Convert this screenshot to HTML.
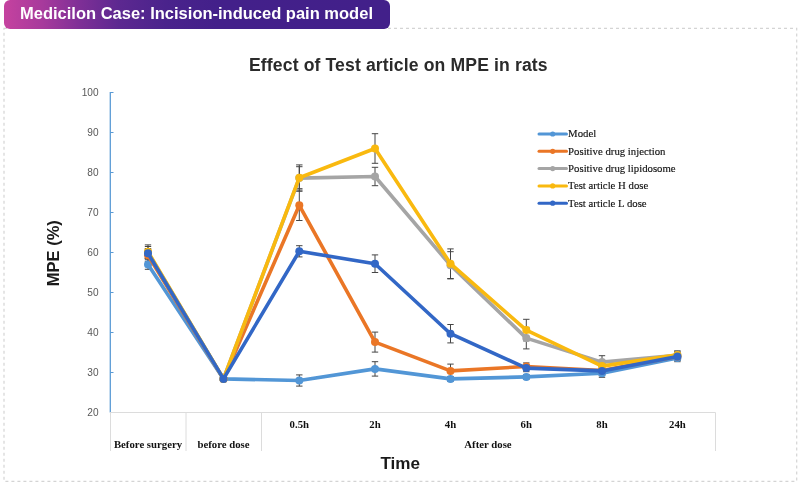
<!DOCTYPE html>
<html><head><meta charset="utf-8"><title>Medicilon Case</title>
<style>
html,body{margin:0;padding:0;background:#fff;}
body{width:800px;height:488px;overflow:hidden;position:relative;font-family:"Liberation Sans",sans-serif;}
#frame{position:absolute;left:0;top:0;}
#banner{position:absolute;left:4px;top:0;width:386px;height:29px;border-radius:6px;background:linear-gradient(90deg,#c5429f 0%,#a73a9c 10%,#7d2f96 20%,#5c2890 30%,#4a238c 42%,#43208a 55%,#42208a 100%);color:#fff;font-weight:bold;font-size:16.5px;line-height:26.6px;box-sizing:border-box;padding-left:16px;white-space:nowrap;}
svg{position:absolute;left:0;top:0;}
.ser{font-family:"Liberation Serif",serif;}
.sans{font-family:"Liberation Sans",sans-serif;}
</style></head><body>
<svg width="800" height="488" viewBox="0 0 800 488">
<rect x="4" y="28.3" width="792.7" height="453" fill="none" stroke="#d4d4d4" stroke-width="1.2" stroke-dasharray="3 3"/>

<text class="sans" x="249" y="70.7" font-size="17.6" font-weight="bold" fill="#2b2b2b" textLength="298.6" lengthAdjust="spacing">Effect of Test article on MPE in rats</text>
<text class="sans" transform="translate(59.3,253.2) rotate(-90)" font-size="16.55" font-weight="bold" fill="#1a1a1a" text-anchor="middle">MPE (%)</text>
<text class="sans" x="400.2" y="469.3" font-size="17.1" font-weight="bold" fill="#1a1a1a" text-anchor="middle">Time</text>
<g stroke="#5b9bd5" stroke-width="1.3" fill="none">
<line x1="110.3" y1="92" x2="110.3" y2="412.5"/>
<line x1="110.3" y1="412.5" x2="113.5" y2="412.5" stroke-width="1"/>
<line x1="110.3" y1="372.5" x2="113.5" y2="372.5" stroke-width="1"/>
<line x1="110.3" y1="332.5" x2="113.5" y2="332.5" stroke-width="1"/>
<line x1="110.3" y1="292.5" x2="113.5" y2="292.5" stroke-width="1"/>
<line x1="110.3" y1="252.5" x2="113.5" y2="252.5" stroke-width="1"/>
<line x1="110.3" y1="212.5" x2="113.5" y2="212.5" stroke-width="1"/>
<line x1="110.3" y1="172.5" x2="113.5" y2="172.5" stroke-width="1"/>
<line x1="110.3" y1="132.5" x2="113.5" y2="132.5" stroke-width="1"/>
<line x1="110.3" y1="92.5" x2="113.5" y2="92.5" stroke-width="1"/>
</g>
<g stroke="#dcdcdc" stroke-width="1" fill="none">
<line x1="110" y1="412.5" x2="715.5" y2="412.5"/>
<line x1="110.5" y1="412.5" x2="110.5" y2="451"/>
<line x1="186.0" y1="412.5" x2="186.0" y2="451"/>
<line x1="261.5" y1="412.5" x2="261.5" y2="451"/>
<line x1="715.5" y1="412.5" x2="715.5" y2="451"/>
</g>
<g class="sans" font-size="10.1" fill="#595959" text-anchor="end">
<text x="98.5" y="415.5">20</text>
<text x="98.5" y="375.5">30</text>
<text x="98.5" y="335.5">40</text>
<text x="98.5" y="295.5">50</text>
<text x="98.5" y="255.5">60</text>
<text x="98.5" y="215.5">70</text>
<text x="98.5" y="175.5">80</text>
<text x="98.5" y="135.5">90</text>
<text x="98.5" y="95.5">100</text>
</g>
<g class="ser" font-size="10.75" font-weight="bold" fill="#111" text-anchor="middle">
<text x="299.3" y="427.9">0.5h</text>
<text x="375.0" y="427.9">2h</text>
<text x="450.5" y="427.9">4h</text>
<text x="526.3" y="427.9">6h</text>
<text x="602.0" y="427.9">8h</text>
<text x="677.4" y="427.9">24h</text>
<text x="148" y="448">Before surgery</text>
<text x="223.5" y="448">before dose</text>
<text x="488" y="448">After dose</text>
</g>
<g stroke="#454545" stroke-width="1" fill="none">
<path d="M148.0 259.7V269.3M144.8 259.7H151.2M144.8 269.3H151.2"/>
<path d="M223.5 376.5V381.3M220.3 376.5H226.7M220.3 381.3H226.7"/>
<path d="M299.3 374.9V386.1M296.1 374.9H302.5M296.1 386.1H302.5"/>
<path d="M375.0 361.7V376.1M371.8 361.7H378.2M371.8 376.1H378.2"/>
<path d="M450.5 376.5V381.3M447.3 376.5H453.7M447.3 381.3H453.7"/>
<path d="M526.3 374.5V379.3M523.1 374.5H529.5M523.1 379.3H529.5"/>
<path d="M602.0 369.3V377.3M598.8 369.3H605.2M598.8 377.3H605.2"/>
<path d="M677.4 354.5V361.7M674.2 354.5H680.6M674.2 361.7H680.6"/>
<path d="M148.0 249.3V261.3M144.8 249.3H151.2M144.8 261.3H151.2"/>
<path d="M223.5 376.5V381.3M220.3 376.5H226.7M220.3 381.3H226.7"/>
<path d="M299.3 190.1V220.5M296.1 190.1H302.5M296.1 220.5H302.5"/>
<path d="M375.0 332.1V352.1M371.8 332.1H378.2M371.8 352.1H378.2"/>
<path d="M450.5 364.1V377.7M447.3 364.1H453.7M447.3 377.7H453.7"/>
<path d="M526.3 362.9V370.1M523.1 362.9H529.5M523.1 370.1H529.5"/>
<path d="M602.0 366.5V374.5M598.8 366.5H605.2M598.8 374.5H605.2"/>
<path d="M677.4 352.9V360.1M674.2 352.9H680.6M674.2 360.1H680.6"/>
<path d="M148.0 246.5V258.5M144.8 246.5H151.2M144.8 258.5H151.2"/>
<path d="M223.5 376.5V381.3M220.3 376.5H226.7M220.3 381.3H226.7"/>
<path d="M299.3 164.9V191.3M296.1 164.9H302.5M296.1 191.3H302.5"/>
<path d="M375.0 167.3V185.7M371.8 167.3H378.2M371.8 185.7H378.2"/>
<path d="M450.5 251.7V278.9M447.3 251.7H453.7M447.3 278.9H453.7"/>
<path d="M526.3 327.3V348.9M523.1 327.3H529.5M523.1 348.9H529.5"/>
<path d="M602.0 355.7V368.5M598.8 355.7H605.2M598.8 368.5H605.2"/>
<path d="M677.4 351.3V359.3M674.2 351.3H680.6M674.2 359.3H680.6"/>
<path d="M148.0 244.9V258.5M144.8 244.9H151.2M144.8 258.5H151.2"/>
<path d="M223.5 376.5V381.3M220.3 376.5H226.7M220.3 381.3H226.7"/>
<path d="M299.3 166.7V188.7M296.1 166.7H302.5M296.1 188.7H302.5"/>
<path d="M375.0 133.7V163.3M371.8 133.7H378.2M371.8 163.3H378.2"/>
<path d="M450.5 248.9V278.5M447.3 248.9H453.7M447.3 278.5H453.7"/>
<path d="M526.3 319.3V340.9M523.1 319.3H529.5M523.1 340.9H529.5"/>
<path d="M602.0 361.3V370.9M598.8 361.3H605.2M598.8 370.9H605.2"/>
<path d="M677.4 350.9V358.9M674.2 350.9H680.6M674.2 358.9H680.6"/>
<path d="M148.0 248.5V258.1M144.8 248.5H151.2M144.8 258.1H151.2"/>
<path d="M223.5 376.5V381.3M220.3 376.5H226.7M220.3 381.3H226.7"/>
<path d="M299.3 245.7V256.9M296.1 245.7H302.5M296.1 256.9H302.5"/>
<path d="M375.0 254.9V272.5M371.8 254.9H378.2M371.8 272.5H378.2"/>
<path d="M450.5 324.5V342.9M447.3 324.5H453.7M447.3 342.9H453.7"/>
<path d="M526.3 364.5V371.7M523.1 364.5H529.5M523.1 371.7H529.5"/>
<path d="M602.0 366.1V375.7M598.8 366.1H605.2M598.8 375.7H605.2"/>
<path d="M677.4 352.5V360.5M674.2 352.5H680.6M674.2 360.5H680.6"/>
</g>
<polyline points="148.0,264.5 223.5,378.9 299.3,380.5 375.0,368.9 450.5,378.9 526.3,376.9 602.0,373.3 677.4,358.1" fill="none" stroke="#5296d6" stroke-width="3.6" stroke-linejoin="round" stroke-linecap="round"/>
<g fill="#5296d6">
<circle cx="148.0" cy="264.5" r="4"/>
<circle cx="223.5" cy="378.9" r="4"/>
<circle cx="299.3" cy="380.5" r="4"/>
<circle cx="375.0" cy="368.9" r="4"/>
<circle cx="450.5" cy="378.9" r="4"/>
<circle cx="526.3" cy="376.9" r="4"/>
<circle cx="602.0" cy="373.3" r="4"/>
<circle cx="677.4" cy="358.1" r="4"/>
</g>
<polyline points="148.0,255.3 223.5,378.9 299.3,205.3 375.0,342.1 450.5,370.9 526.3,366.5 602.0,370.5 677.4,356.5" fill="none" stroke="#ea7626" stroke-width="3.6" stroke-linejoin="round" stroke-linecap="round"/>
<g fill="#ea7626">
<circle cx="148.0" cy="255.3" r="4"/>
<circle cx="223.5" cy="378.9" r="4"/>
<circle cx="299.3" cy="205.3" r="4"/>
<circle cx="375.0" cy="342.1" r="4"/>
<circle cx="450.5" cy="370.9" r="4"/>
<circle cx="526.3" cy="366.5" r="4"/>
<circle cx="602.0" cy="370.5" r="4"/>
<circle cx="677.4" cy="356.5" r="4"/>
</g>
<polyline points="148.0,252.5 223.5,378.9 299.3,178.1 375.0,176.5 450.5,265.3 526.3,338.1 602.0,362.1 677.4,355.3" fill="none" stroke="#a5a5a5" stroke-width="3.6" stroke-linejoin="round" stroke-linecap="round"/>
<g fill="#a5a5a5">
<circle cx="148.0" cy="252.5" r="4"/>
<circle cx="223.5" cy="378.9" r="4"/>
<circle cx="299.3" cy="178.1" r="4"/>
<circle cx="375.0" cy="176.5" r="4"/>
<circle cx="450.5" cy="265.3" r="4"/>
<circle cx="526.3" cy="338.1" r="4"/>
<circle cx="602.0" cy="362.1" r="4"/>
<circle cx="677.4" cy="355.3" r="4"/>
</g>
<polyline points="148.0,251.7 223.5,378.9 299.3,177.7 375.0,148.5 450.5,263.7 526.3,330.1 602.0,366.1 677.4,354.9" fill="none" stroke="#f9b90f" stroke-width="3.6" stroke-linejoin="round" stroke-linecap="round"/>
<g fill="#f9b90f">
<circle cx="148.0" cy="251.7" r="4"/>
<circle cx="223.5" cy="378.9" r="4"/>
<circle cx="299.3" cy="177.7" r="4"/>
<circle cx="375.0" cy="148.5" r="4"/>
<circle cx="450.5" cy="263.7" r="4"/>
<circle cx="526.3" cy="330.1" r="4"/>
<circle cx="602.0" cy="366.1" r="4"/>
<circle cx="677.4" cy="354.9" r="4"/>
</g>
<polyline points="148.0,253.3 223.5,378.9 299.3,251.3 375.0,263.7 450.5,333.7 526.3,368.1 602.0,370.9 677.4,356.5" fill="none" stroke="#3267c6" stroke-width="3.6" stroke-linejoin="round" stroke-linecap="round"/>
<g fill="#3267c6">
<circle cx="148.0" cy="253.3" r="4"/>
<circle cx="223.5" cy="378.9" r="4"/>
<circle cx="299.3" cy="251.3" r="4"/>
<circle cx="375.0" cy="263.7" r="4"/>
<circle cx="450.5" cy="333.7" r="4"/>
<circle cx="526.3" cy="368.1" r="4"/>
<circle cx="602.0" cy="370.9" r="4"/>
<circle cx="677.4" cy="356.5" r="4"/>
</g>
<g class="ser" font-size="10.75" fill="#111">
<line x1="539" y1="134.0" x2="566.5" y2="134.0" stroke="#5296d6" stroke-width="3" stroke-linecap="round"/>
<circle cx="552.7" cy="134.0" r="2.6" fill="#5296d6"/>
<text x="568.1" y="137.3" stroke="#111" stroke-width="0.15">Model</text>
<line x1="539" y1="151.3" x2="566.5" y2="151.3" stroke="#ea7626" stroke-width="3" stroke-linecap="round"/>
<circle cx="552.7" cy="151.3" r="2.6" fill="#ea7626"/>
<text x="568.1" y="154.6" stroke="#111" stroke-width="0.15">Positive drug injection</text>
<line x1="539" y1="168.6" x2="566.5" y2="168.6" stroke="#a5a5a5" stroke-width="3" stroke-linecap="round"/>
<circle cx="552.7" cy="168.6" r="2.6" fill="#a5a5a5"/>
<text x="568.1" y="171.9" stroke="#111" stroke-width="0.15">Positive drug lipidosome</text>
<line x1="539" y1="185.9" x2="566.5" y2="185.9" stroke="#f9b90f" stroke-width="3" stroke-linecap="round"/>
<circle cx="552.7" cy="185.9" r="2.6" fill="#f9b90f"/>
<text x="568.1" y="189.2" stroke="#111" stroke-width="0.15">Test article H dose</text>
<line x1="539" y1="203.2" x2="566.5" y2="203.2" stroke="#3267c6" stroke-width="3" stroke-linecap="round"/>
<circle cx="552.7" cy="203.2" r="2.6" fill="#3267c6"/>
<text x="568.1" y="206.5" stroke="#111" stroke-width="0.15">Test article L dose</text>
</g>
</svg><div id="banner">Medicilon Case: Incision-induced pain model</div></body></html>
